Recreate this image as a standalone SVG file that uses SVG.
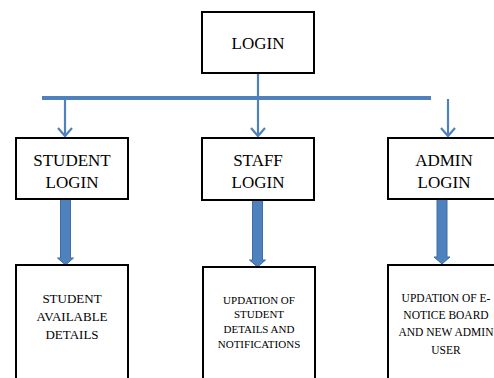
<svg xmlns="http://www.w3.org/2000/svg" width="494" height="378" viewBox="0 0 494 378">
<style>
.box{fill:#fff;stroke:#000;stroke-width:2}
.t{font-family:"Liberation Serif","Times New Roman",serif;fill:#000;text-anchor:middle}
.big{font-size:17px}
.thin{fill:none;stroke:#4f81bd;stroke-width:2.2}
.bar{fill:none;stroke:#4f81bd;stroke-width:4}
.fat{fill:#4f81bd;stroke:#3d6ea5;stroke-width:1}
</style>
<rect width="494" height="378" fill="#fff"/>
<g id="connectors">
<line class="bar" x1="42" y1="98" x2="431" y2="98"/>
<line class="thin" x1="258" y1="73" x2="258" y2="136"/>
<polyline class="thin" points="251,128 258,136 265,128"/>
<line class="thin" x1="65" y1="98" x2="65" y2="136"/>
<polyline class="thin" points="58,128 65,136 72,128"/>
<line class="thin" x1="448" y1="99" x2="448" y2="136"/>
<polyline class="thin" points="441,128 448,136 455,128"/>
<polygon class="fat" points="60.5,199 70.5,199 70.5,258 73.5,258 65.5,265 57.5,258 60.5,258"/>
<polygon class="fat" points="252.5,200 262.5,200 262.5,260 265.5,260 257.5,267 249.5,260 252.5,260"/>
<polygon class="fat" points="437,199 447,199 447,257 450,257 442,264 434,257 437,257"/>
</g>
<g id="login">
<rect class="box" x="202" y="12" width="112" height="61"/>
<text class="t big" x="258" y="49">LOGIN</text>
</g>
<g id="student-login">
<rect class="box" x="16" y="138" width="112" height="61"/>
<text class="t big" x="72" y="166">STUDENT</text>
<text class="t big" x="72" y="188">LOGIN</text>
</g>
<g id="staff-login">
<rect class="box" x="202" y="138" width="112" height="62"/>
<text class="t big" x="258" y="166">STAFF</text>
<text class="t big" x="258" y="188">LOGIN</text>
</g>
<g id="admin-login">
<rect class="box" x="388" y="138" width="112" height="61"/>
<text class="t big" x="444" y="166">ADMIN</text>
<text class="t big" x="444" y="188">LOGIN</text>
</g>
<g id="student-details">
<rect class="box" x="16" y="265" width="112" height="130"/>
<text class="t" font-size="13" x="72" y="303">STUDENT</text>
<text class="t" font-size="13" x="72" y="321">AVAILABLE</text>
<text class="t" font-size="13" x="72" y="339">DETAILS</text>
</g>
<g id="staff-details">
<rect class="box" x="203" y="267" width="112" height="130"/>
<text class="t" font-size="11" x="259" y="304">UPDATION OF</text>
<text class="t" font-size="11" x="259" y="318">STUDENT</text>
<text class="t" font-size="11" x="259" y="333">DETAILS AND</text>
<text class="t" font-size="11" x="259" y="348">NOTIFICATIONS</text>
</g>
<g id="admin-details">
<rect class="box" x="388" y="265" width="112" height="130"/>
<text class="t" font-size="11.5" x="446" y="302">UPDATION OF E-</text>
<text class="t" font-size="11.5" x="446" y="319">NOTICE BOARD</text>
<text class="t" font-size="11.5" x="446" y="336">AND NEW ADMIN</text>
<text class="t" font-size="11.5" x="446" y="354">USER</text>
</g>
</svg>
